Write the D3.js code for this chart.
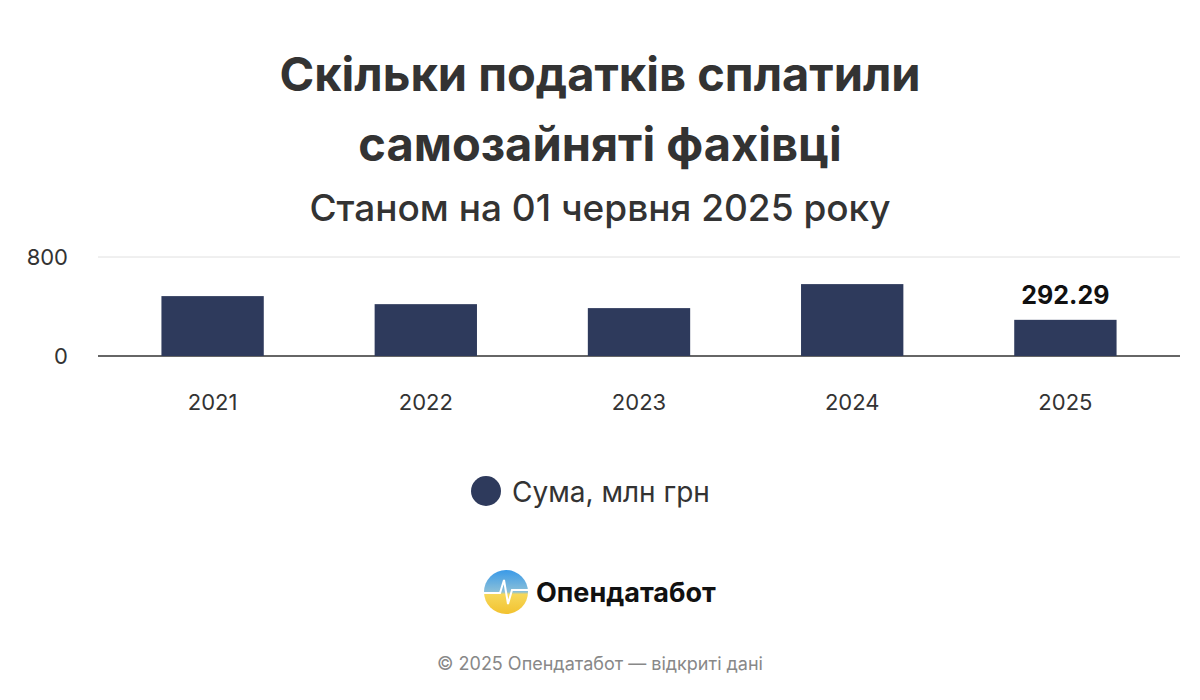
<!DOCTYPE html>
<html><head><meta charset="utf-8">
<script src="https://cdn.jsdelivr.net/npm/d3@7"></script>
<style>body{margin:0;background:#fff;font-family:Inter,"Noto Sans",sans-serif}</style>
</head><body><svg id="c" width="1200" height="700"></svg>
<script>
const categories = ["2021","2022","2023","2024","2025"];
const values = [484, 419, 387, 581, 292.29];
const yTicks = [0, 800];
const seriesName = "Сума, млн грн";

const svg = d3.select("#c");
const color = "#2e3a5c";
const t = svg.append("g").attr("text-anchor","middle").attr("fill","#333");
t.append("text").attr("x",600).attr("y",91).attr("font-size",47).attr("font-weight",700).text("Скільки податків сплатили");
t.append("text").attr("x",600).attr("y",161).attr("font-size",47).attr("font-weight",700).text("самозайняті фахівці");
t.append("text").attr("x",600).attr("y",221).attr("font-size",37).attr("font-weight",500).text("Станом на 01 червня 2025 року");

const x = d3.scaleBand().domain(categories).range([106,1172]).paddingInner(0.52).paddingOuter(0.26);
const y = d3.scaleLinear().domain([0,800]).range([356,257]);

svg.append("g").selectAll("line").data(yTicks).join("line")
 .attr("x1",98).attr("x2",1180).attr("y1",d=>y(d)).attr("y2",d=>y(d))
 .attr("stroke",d=>d===0?"#333":"#e0e0e0").attr("stroke-width",d=>d===0?1.5:1);
svg.append("g").selectAll("text").data(yTicks).join("text")
 .attr("x",68).attr("y",d=>y(d)+8).attr("text-anchor","end").attr("font-size",22).attr("fill","#333").text(d=>d);

svg.append("g").selectAll("rect").data(values).join("rect")
 .attr("x",(d,i)=>x(categories[i])).attr("width",x.bandwidth())
 .attr("y",d=>y(d)).attr("height",d=>y(0)-y(d)).attr("fill",color);
svg.append("g").selectAll("text").data(categories).join("text")
 .attr("x",d=>x(d)+x.bandwidth()/2).attr("y",410).attr("text-anchor","middle")
 .attr("font-size",22).attr("fill","#333").text(d=>d);
svg.append("text").attr("x",x("2025")+x.bandwidth()/2).attr("y",y(values[4])-16)
 .attr("text-anchor","middle").attr("font-size",25).attr("font-weight",700).attr("fill","#111").text(values[4].toFixed(2));

svg.append("circle").attr("cx",486).attr("cy",491).attr("r",15).attr("fill",color);
svg.append("text").attr("x",512).attr("y",502).attr("font-size",28).attr("fill","#333").text(seriesName);

const defs = svg.append("defs");
const g = defs.append("linearGradient").attr("id","lg").attr("x1",0).attr("y1",0).attr("x2",0).attr("y2",1);
g.append("stop").attr("offset","0%").attr("stop-color","#3a9ae8");
g.append("stop").attr("offset","50%").attr("stop-color","#8cc0d8");
g.append("stop").attr("offset","55%").attr("stop-color","#f6d85a");
g.append("stop").attr("offset","100%").attr("stop-color","#f2c230");
svg.append("circle").attr("cx",506).attr("cy",592).attr("r",22).attr("fill","url(#lg)");
svg.append("path").attr("d","M484,593 L500,593 L504,580 L508,604 L512,590 L528,590").attr("fill","none").attr("stroke","#fff").attr("stroke-width",2);
svg.append("text").attr("x",536).attr("y",602).attr("font-size",27).attr("font-weight",700).attr("fill","#111").text("Опендатабот");
svg.append("text").attr("x",600).attr("y",670).attr("text-anchor","middle").attr("font-size",18).attr("fill","#888").text("© 2025 Опендатабот — відкриті дані");
</script></body></html>
